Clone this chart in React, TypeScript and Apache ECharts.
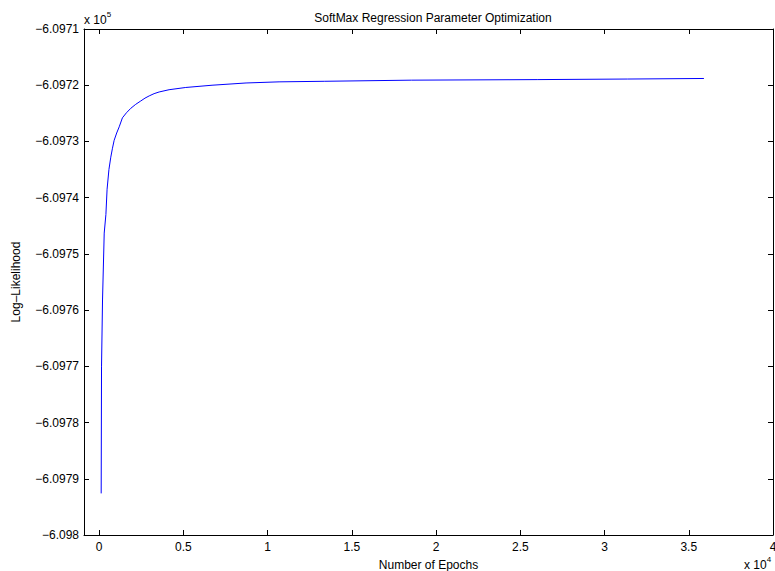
import React, { useEffect, useRef } from "react";
import * as echarts from "echarts";

// Epochs in units of 10^4, log-likelihood in units of 10^5
const epochs = [0.012, 0.014, 0.02, 0.03, 0.04, 0.047, 0.058, 0.069, 0.079, 0.089, 0.104, 0.119, 0.138, 0.162, 0.188, 0.217, 0.247, 0.272, 0.297, 0.326, 0.356, 0.415, 0.514, 0.67, 0.872, 1.068, 1.336, 1.853, 2.6, 3.135, 3.59];
const logLik = [-6.097926, -6.097701, -6.097582, -6.097463, -6.09743, -6.097385, -6.09735, -6.097328, -6.097312, -6.097298, -6.097285, -6.097274, -6.097258, -6.097249, -6.097241, -6.097234, -6.097228, -6.097223, -6.097219, -6.097215, -6.097212, -6.097208, -6.097204, -6.0972, -6.097196, -6.097194, -6.097193, -6.097191, -6.09719, -6.097189, -6.097188];
const xTicks = [0, 0.5, 1, 1.5, 2, 2.5, 3, 3.5, 4];
const yTicks = [-6.098, -6.0979, -6.0978, -6.0977, -6.0976, -6.0975, -6.0974, -6.0973, -6.0972, -6.0971];

const FONT = "Liberation Sans, Arial, Helvetica, sans-serif";

const fmtY = (v: number) => parseFloat(v.toFixed(4)).toString().replace("-", "\u2212");
const fmtX = (v: number) => parseFloat(v.toFixed(2)).toString();

export default function App() {
  const ref = useRef<HTMLDivElement>(null);
  useEffect(() => {
    if (!ref.current) return;
    const chart = echarts.init(ref.current, null, { renderer: "svg" });
    const axisLine = { show: true, onZero: false, lineStyle: { color: "#000", width: 1 } };
    const tickIn = { show: true, inside: true, length: 5, lineStyle: { color: "#000", width: 1 } };
    const rich = {
      a: { fontFamily: FONT, fontSize: 12, fill: "#000", verticalAlign: "bottom" },
      s: { fontFamily: FONT, fontSize: 8, fill: "#000", verticalAlign: "top", padding: [0, 0, 8, 0] },
    };
    chart.setOption({
      animation: false,
      backgroundColor: "#fff",
      title: {
        text: "SoftMax Regression Parameter Optimization",
        left: 428,
        top: 7,
        textAlign: "center",
        textStyle: { fontFamily: FONT, fontSize: 12, fontWeight: "normal", color: "#000" },
      },
      grid: { left: 84, right: 2, top: 29, bottom: 36, containLabel: false, outerBoundsMode: "none" },
      xAxis: [
        {
          type: "value",
          min: -0.09,
          max: 4,
          position: "bottom",
          axisLine,
          axisTick: { ...tickIn, customValues: xTicks },
          axisLabel: {
            customValues: xTicks,
            formatter: fmtX,
            fontFamily: FONT,
            fontSize: 12,
            color: "#000",
            margin: 6,
            hideOverlap: false,
          },
          splitLine: { show: false },
          name: "Number of Epochs",
          nameLocation: "middle",
          nameGap: 24,
          nameTextStyle: { fontFamily: FONT, fontSize: 12, color: "#000" },
        },
        {
          type: "value",
          min: -0.09,
          max: 4,
          position: "top",
          axisLine,
          axisTick: { ...tickIn, customValues: xTicks },
          axisLabel: { show: false },
          splitLine: { show: false },
        },
      ],
      yAxis: [
        {
          type: "value",
          min: -6.098,
          max: -6.0971,
          position: "left",
          axisLine,
          axisTick: { ...tickIn, customValues: yTicks },
          axisLabel: {
            customValues: yTicks,
            formatter: fmtY,
            fontFamily: FONT,
            fontSize: 12,
            color: "#000",
            margin: 5,
          },
          splitLine: { show: false },
          name: "Log\u2013Likelihood",
          nameLocation: "middle",
          nameGap: 62,
          nameTextStyle: { fontFamily: FONT, fontSize: 12, color: "#000" },
        },
        {
          type: "value",
          min: -6.098,
          max: -6.0971,
          position: "right",
          axisLine,
          axisTick: { ...tickIn, customValues: yTicks },
          axisLabel: { show: false },
          splitLine: { show: false },
        },
      ],
      series: [
        {
          type: "line",
          xAxisIndex: 0,
          yAxisIndex: 0,
          data: epochs.map((x, i) => [x, logLik[i]]),
          showSymbol: false,
          smooth: false,
          lineStyle: { color: "#0000ff", width: 1 },
          itemStyle: { color: "#0000ff" },
        },
      ],
      graphic: [
        { type: "text", left: 84, top: 10, style: { text: "{a|x 10}{s|5}", rich } },
        { type: "text", left: 744, top: 555, style: { text: "{a|x 10}{s|4}", rich } },
      ],
    });
    return () => chart.dispose();
  }, []);
  return <div ref={ref} style={{ width: 775, height: 571, position: "absolute", left: 0, top: 0 }} />;
}
